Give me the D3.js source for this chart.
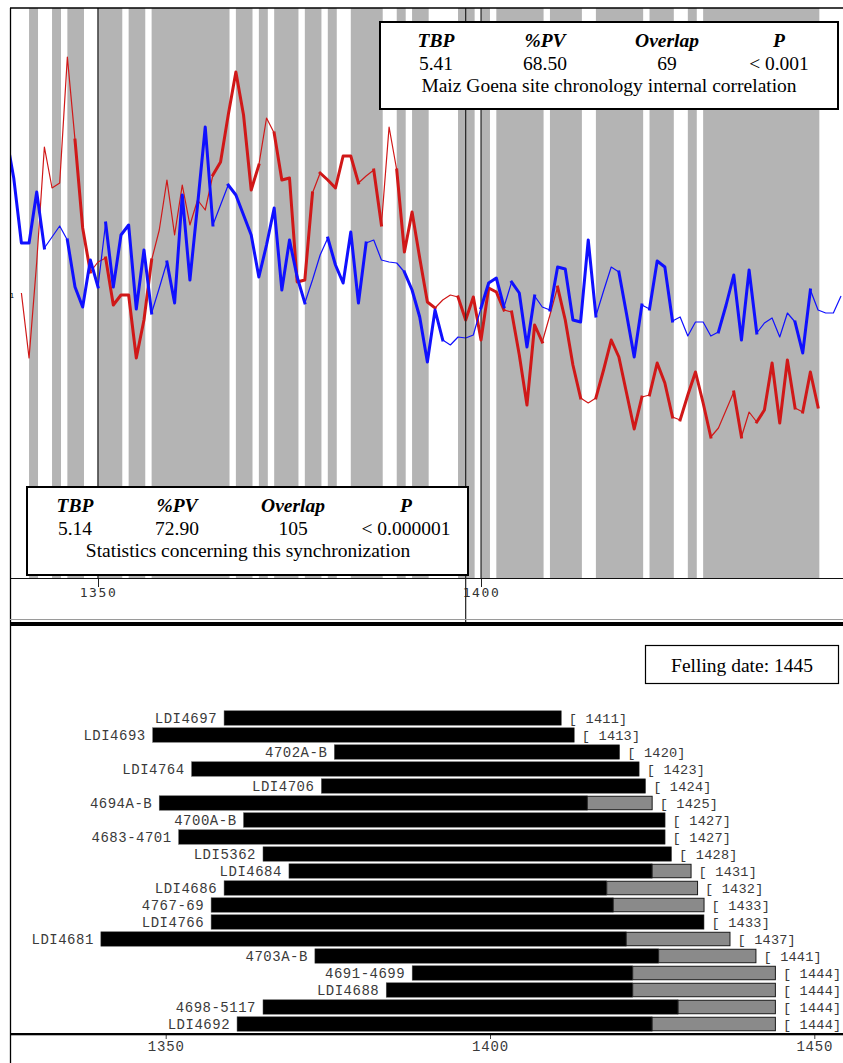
<!DOCTYPE html>
<html><head><meta charset="utf-8">
<script src="https://cdn.jsdelivr.net/npm/d3@7"></script>
<style>body{margin:0;background:#fff}svg{display:block}</style>
</head><body>
<script>
// ---------------- DATA ----------------
const blueStart = 1338;
const blueValues = [460,417,352,352,403,347,358,369,355,308,288,335,308,372,308,360,370,286,345,282,
307,333,292,400,315,390,468,370,390,410,400,380,360,318,350,387,305,355,318,292,
315,340,357,330,312,363,292,352,355,335,333,332,323,305,278,233,285,255,250,258,
257,260,287,312,317,288,313,302,248,299,288,285,328,326,275,273,355,279,304,328,
323,281,238,290,286,334,328,274,278,259,273,273,259,263,290,320,255,325,262,272,
277,258,282,273,242,305,285,282,282,299];
const redStart = 1340;
const redValues = [302,237,333,448,407,412,538,455,367,323,333,337,290,300,300,237,275,335,365,415,
360,410,370,395,385,420,433,480,523,480,405,430,477,462,415,417,313,315,402,422,
415,407,439,439,412,419,425,370,468,425,343,383,337,293,287,295,300,298,275,298,
255,307,303,285,283,240,190,270,253,280,308,275,230,197,192,197,225,255,238,202,
166,198,200,232,212,178,175,200,223,192,158,167,185,203,158,183,173,185,232,172,
235,187,183,223,188];
// year spans drawn with a heavy stroke
const blueHeavyFrom = [1338,1346,1351,1359,1367,1380,1390,1400,1404,1409,1418,1422,1431,1441];
const blueHeavyTo   = [1343,1350,1357,1365,1377,1385,1395,1403,1407,1415,1421,1425,1436,1443];
const redHeavyFrom  = [1347,1351,1365,1373,1379,1386,1389,1397,1404,1410,1415,1422,1426,1433,1436,1442];
const redHeavyTo    = [1349,1357,1371,1378,1384,1387,1394,1403,1408,1413,1421,1425,1430,1434,1441,1444];
// intervals shaded grey (start year, end year)
const bandStarts = [1341,1344,1346,1350,1354,1357,1368,1371,1373,1377,1380,1383,1389,1391,1397,1400,1402,1409,1415,1422,1427,1429];
const bandEnds   = [1342,1345,1348,1353,1356,1367,1370,1372,1376,1379,1381,1387,1390,1393,1399,1401,1408,1413,1421,1425,1428,1444];
const topTicks = [1350,1400];
const markerYears = [1398];
const statHeaders = ["TBP","%PV","Overlap","P"];
const statsTop = ["5.41","68.50","69","< 0.001"];
const statsTopLabel = "Maiz Goena site chronology internal correlation";
const statsBottom = ["5.14","72.90","105","< 0.000001"];
const statsBottomLabel = "Statistics concerning this synchronization";
const fellingLabel = "Felling date: 1445";

const samples  = ["LDI4697","LDI4693","4702A-B","LDI4764","LDI4706","4694A-B","4700A-B","4683-4701","LDI5362","LDI4684","LDI4686","4767-69","LDI4766","LDI4681","4703A-B","4691-4699","LDI4688","4698-5117","LDI4692"];
const startYears = [1359,1348,1376,1354,1374,1349,1362,1352,1365,1369,1359,1357,1357,1340,1373,1388,1384,1365,1361];
const sapStarts  = [null,null,null,null,null,1415,null,null,null,1425,1418,1419,null,1421,1426,1422,1422,1429,1425];
const endYears   = [1411,1413,1420,1423,1424,1425,1427,1427,1428,1431,1432,1433,1433,1437,1441,1444,1444,1444,1444];
const bottomTicks = [1350,1400,1450];

// ---------------- CHART ----------------
const W = 843, H = 1063;
const svg = d3.select("body").append("svg").attr("width", W).attr("height", H);
svg.append("rect").attr("width", W).attr("height", H).attr("fill", "#fff");

const pL = 10, pR = 843, pT = 8, pB = 578;
const xT = d3.scaleLinear().domain([1350, 1400]).range([98, 481]);
const yT = d3.scaleLinear().domain([0, 600]).range([595, -5]);

svg.append("clipPath").attr("id", "plotClip").append("rect")
  .attr("x", pL).attr("y", pT).attr("width", pR - pL).attr("height", pB - pT);

const plot = svg.append("g").attr("clip-path", "url(#plotClip)");
plot.selectAll("rect.band").data(bandStarts.map((s, i) => [s, bandEnds[i]])).join("rect")
  .attr("class", "band")
  .attr("x", d => xT(d[0])).attr("width", d => xT(d[1]) - xT(d[0]) + 1.3)
  .attr("y", pT).attr("height", pB - pT).attr("fill", "#b4b4b4");

// axis
const axT = svg.append("g").attr("transform", `translate(0,${pB})`)
  .call(d3.axisBottom(xT).tickValues(topTicks).tickFormat(d3.format("d")).tickSize(9).tickSizeOuter(0).tickPadding(0));
axT.select(".domain").remove();
axT.selectAll(".tick line").attr("stroke", "#222");
axT.selectAll(".tick text").attr("font-family", "DejaVu Sans Mono").attr("font-size", 13)
  .attr("letter-spacing", "1.6px").attr("fill", "#333").attr("dy", 0).attr("y", 19);
svg.append("line").attr("x1", pL).attr("x2", pR).attr("y1", pB + 0.5).attr("y2", pB + 0.5).attr("stroke", "#111");

// grid lines
plot.selectAll("line.grid").data([1350, 1400]).join("line").attr("class", "grid")
  .attr("x1", d => xT(d)).attr("x2", d => xT(d)).attr("y1", pT).attr("y2", pB)
  .attr("stroke", (d, i) => i ? "#000" : "#444").attr("stroke-width", (d, i) => i ? 1 : 1.6);
svg.selectAll("line.marker").data(markerYears).join("line").attr("class", "marker")
  .attr("x1", d => xT(d)).attr("x2", d => xT(d)).attr("y1", pT).attr("y2", 622)
  .attr("stroke", "#222").attr("stroke-width", 1.2);

// series
function drawSeries(start, values, color, heavyFrom, heavyTo) {
  const pts = values.map((v, i) => ({ yr: start + i, v }));
  const gen = d3.line().x(d => xT(d.yr)).y(d => yT(d.v));
  plot.append("path").datum(pts).attr("d", gen)
    .attr("fill", "none").attr("stroke", color).attr("stroke-width", 1.2).attr("stroke-linejoin", "round");
  plot.selectAll(null).data(heavyFrom.map((a, i) => pts.filter(p => p.yr >= a && p.yr <= heavyTo[i]))).join("path")
    .attr("d", gen).attr("fill", "none").attr("stroke", color).attr("stroke-width", 3)
    .attr("stroke-linejoin", "round").attr("stroke-linecap", "square");
}
drawSeries(redStart, redValues, "#d01818", redHeavyFrom, redHeavyTo);
drawSeries(blueStart, blueValues, "#1010ff", blueHeavyFrom, blueHeavyTo);

svg.append("text").attr("x", 12).attr("y", 298).attr("font-size", 7).attr("font-family", "DejaVu Sans")
  .attr("text-anchor", "middle").attr("fill", "#000").text("1");

// frame
svg.append("line").attr("x1", pL).attr("x2", pR).attr("y1", pT).attr("y2", pT).attr("stroke", "#000").attr("stroke-width", 1.5);
svg.append("line").attr("x1", pL + 0.5).attr("x2", pL + 0.5).attr("y1", pT).attr("y2", H).attr("stroke", "#000").attr("stroke-width", 1.3);
svg.append("line").attr("x1", pL).attr("x2", pR).attr("y1", 619.5).attr("y2", 619.5).attr("stroke", "#9a9a9a");
svg.append("rect").attr("x", pL).attr("y", 622).attr("width", pR - pL).attr("height", 4).attr("fill", "#000");

// stat boxes
function statBox(x, y, w, h, cols, vals, label, labelX) {
  const g = svg.append("g");
  g.append("rect").attr("x", x).attr("y", y).attr("width", w).attr("height", h)
    .attr("fill", "#fff").attr("stroke", "#000").attr("stroke-width", 2);
  const f = "Liberation Serif, Times New Roman, serif";
  g.selectAll("text.h").data(statHeaders).join("text").attr("class", "h")
    .attr("x", (d, i) => cols[i]).attr("y", y + 25).attr("text-anchor", "middle")
    .attr("font-family", f).attr("font-size", 19.5).attr("font-weight", "bold").attr("font-style", "italic").text(d => d);
  g.selectAll("text.v").data(vals).join("text").attr("class", "v")
    .attr("x", (d, i) => cols[i]).attr("y", y + 48).attr("text-anchor", "middle")
    .attr("font-family", f).attr("font-size", 19.5).text(d => d);
  g.append("text").attr("x", labelX).attr("y", y + 70).attr("text-anchor", "middle")
    .attr("font-family", f).attr("font-size", 19.5).text(label);
}
statBox(380, 22, 458, 87, [436, 545, 667, 779], statsTop, statsTopLabel, 609);
statBox(27, 487, 441, 88, [75, 177, 293, 406], statsBottom, statsBottomLabel, 248);

// ---------------- BOTTOM PANEL ----------------
const xB = d3.scaleLinear().domain([1350, 1450]).range([165.7, 814.3]);
const yB = d3.scaleBand().domain(samples).range([709.5, 1032.5]).paddingInner(0.15).paddingOuter(0.075);

svg.append("rect").attr("x", 645.5).attr("y", 645.5).attr("width", 193).attr("height", 38)
  .attr("fill", "#fff").attr("stroke", "#000").attr("stroke-width", 1.2);
svg.append("text").attr("x", 742).attr("y", 672).attr("text-anchor", "middle")
  .attr("font-family", "Liberation Serif, Times New Roman, serif").attr("font-size", 19.5).text(fellingLabel);

const rows = samples.map((s, i) => ({ s, a: startYears[i], sap: sapStarts[i], e: endYears[i] }));
const gB = svg.append("g");
gB.selectAll("rect.heart").data(rows).join("rect").attr("class", "heart")
  .attr("x", d => xB(d.a)).attr("width", d => xB(d.sap == null ? d.e : d.sap) - xB(d.a))
  .attr("y", d => yB(d.s)).attr("height", yB.bandwidth()).attr("fill", "#000")
  .attr("stroke", "#555").attr("stroke-width", 0.5);
gB.selectAll("rect.sap").data(rows.filter(d => d.sap != null)).join("rect").attr("class", "sap")
  .attr("x", d => xB(d.sap)).attr("width", d => xB(d.e) - xB(d.sap))
  .attr("y", d => yB(d.s) + 0.5).attr("height", yB.bandwidth() - 1).attr("fill", "#8a8a8a")
  .attr("stroke", "#1a1a1a").attr("stroke-width", 1);
const mono = "Liberation Mono, Courier New, monospace";
gB.selectAll("text.name").data(rows).join("text").attr("class", "name")
  .attr("x", d => xB(d.a) - 7).attr("y", d => yB(d.s) + yB.bandwidth() / 2 + 4.5)
  .attr("text-anchor", "end").attr("font-family", mono).attr("font-size", 14)
  .attr("letter-spacing", "0.5px").attr("fill", "#3a3a3a").text(d => d.s);
gB.selectAll("text.end").data(rows).join("text").attr("class", "end")
  .attr("x", d => xB(d.e) + 7.5).attr("y", d => yB(d.s) + yB.bandwidth() / 2 + 4.5)
  .attr("font-family", mono).attr("font-size", 13.6)
  .attr("letter-spacing", "0.2px").attr("fill", "#3a3a3a").text(d => `[ ${d.e}]`);

const axB = svg.append("g").attr("transform", "translate(0,1034)")
  .call(d3.axisBottom(xB).tickValues(bottomTicks).tickFormat(d3.format("d")).tickSize(5).tickSizeOuter(0).tickPadding(0));
axB.select(".domain").remove();
axB.selectAll(".tick line").attr("stroke", "#444");
axB.selectAll(".tick text").attr("font-family", mono).attr("font-size", 14)
  .attr("letter-spacing", "0.8px").attr("fill", "#3a3a3a").attr("dy", 0).attr("y", 17);
svg.append("rect").attr("x", pL).attr("y", 1033).attr("width", pR - pL).attr("height", 2.3).attr("fill", "#000");
</script>
</body></html>
